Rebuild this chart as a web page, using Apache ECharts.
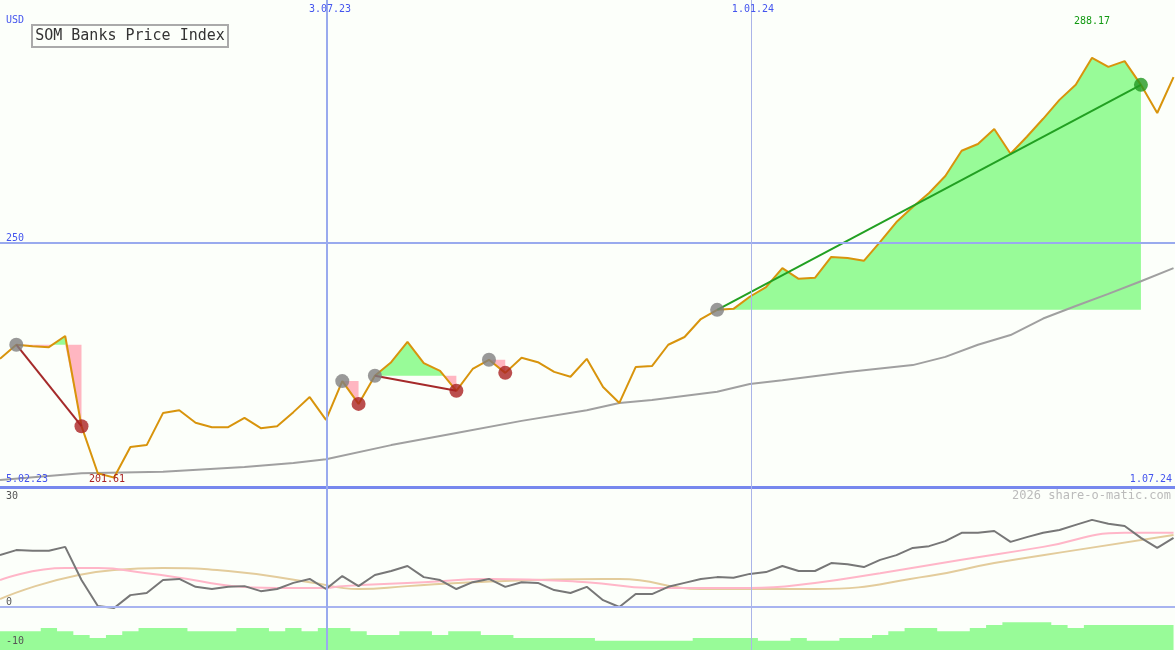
<!DOCTYPE html>
<html>
<head>
<meta charset="utf-8">
<script src="https://cdn.jsdelivr.net/npm/echarts@6/dist/echarts.min.js"></script>
<style>
  html, body { margin: 0; padding: 0; background: #fcfffa; }
  #chart { width: 1175px; height: 650px; }
</style>
</head>
<body>
<div id="chart"></div>
<script>
// weekly closes, index 0..72
var price = [226.1, 229.0, 228.7, 228.5, 230.8, 212.2, 202.5, 201.6, 207.9, 208.3,
  214.9, 215.5, 212.9, 212.0, 212.0, 213.9, 211.8, 212.2, 215.1, 218.2,
  213.5, 221.5, 216.8, 222.6, 225.4, 229.6, 225.2, 223.6, 219.5, 224.0,
  225.9, 223.2, 226.3, 225.4, 223.4, 222.4, 226.1, 220.3, 217.0, 224.4,
  224.6, 229.0, 230.6, 234.3, 236.2, 236.4, 238.9, 240.9, 244.8, 242.6,
  242.8, 247.1, 246.9, 246.3, 250.2, 254.3, 257.4, 260.3, 263.8, 269.0,
  270.4, 273.5, 268.4, 271.9, 275.6, 279.5, 282.6, 288.17, 286.3, 287.5,
  282.6, 276.8, 284.2];
// long moving average [index, value]
var maLong = [[0, 201.1], [5, 202.5], [10, 202.8], [15, 203.8], [18, 204.6], [20, 205.4],
  [24, 208.3], [28, 210.8], [32, 213.3], [36, 215.5], [38, 217.0], [40, 217.6], [44, 219.3],
  [46, 220.9], [48, 221.7], [52, 223.4], [56, 224.8], [58, 226.5], [60, 229.0], [62, 231.0],
  [64, 234.4], [66, 237.0], [68, 239.5], [70, 242.1], [72, 244.8]];
// trades
var tradeEntry = [1, 21, 23, 30, 44];
var tradeExit = [5, 22, 28, 31, 70];
var tradeLine = [true, false, true, false, true];

// lower pane
var momentum = [14.4, 15.8, 15.6, 15.6, 16.7, 7.5, 0.3, -0.3, 3.3, 3.9,
  7.5, 7.8, 5.6, 5.0, 5.6, 5.8, 4.4, 5.0, 6.7, 7.8,
  5.0, 8.6, 5.8, 8.9, 10.0, 11.4, 8.3, 7.5, 5.0, 6.9,
  7.8, 5.6, 6.9, 6.7, 4.7, 3.9, 5.6, 1.9, 0, 3.6,
  3.6, 5.6, 6.7, 7.8, 8.3, 8.1, 9.2, 9.7, 11.4, 10.0,
  10.0, 12.2, 11.9, 11.1, 13.1, 14.4, 16.4, 16.9, 18.3, 20.6,
  20.6, 21.1, 18.1, 19.4, 20.6, 21.4, 22.8, 24.2, 23.1, 22.5,
  19.2, 16.4, 19.2];
var signalPink = [[0, 7.5], [4, 10.8], [6, 10.8], [9, 9.4], [17, 5.3], [20, 5.3], [21, 5.8],
  [26, 6.9], [30, 7.8], [36, 6.9], [40, 5.3], [46, 5.3], [50, 6.7], [54, 9.4], [59, 13.1],
  [64, 16.7], [69, 20.6], [72, 20.6]];
var signalTan = [[0, 2.2], [7, 10.3], [10, 10.8], [14, 10.0], [19, 6.9], [22, 5.0], [25, 5.8],
  [29, 6.9], [37, 7.8], [38, 7.8], [43, 5.0], [50, 5.0], [57, 8.6], [61, 12.2], [66, 15.8],
  [72, 20.0]];
var volume = [-6.7, -6.7, -6.7, -5.8, -6.7, -7.8, -8.6, -7.8, -6.7, -5.8,
  -5.8, -5.8, -6.7, -6.7, -6.7, -5.8, -5.8, -6.7, -5.8, -6.7,
  -5.8, -5.8, -6.7, -7.8, -7.8, -6.7, -6.7, -7.8, -6.7, -6.7,
  -7.8, -7.8, -8.6, -8.6, -8.6, -8.6, -8.6, -9.4, -9.4, -9.4,
  -9.4, -9.4, -9.4, -8.6, -8.6, -8.6, -8.6, -9.4, -9.4, -8.6,
  -9.4, -9.4, -8.6, -8.6, -7.8, -6.7, -5.8, -5.8, -6.7, -6.7,
  -5.8, -5.0, -4.2, -4.2, -4.2, -5.0, -5.8, -5.0, -5.0, -5.0,
  -5.0, -5.0, -5.0];

var dateLabels = ['3.07.23', '1.01.24'];
var dateIdx = [20.06, 46.07];
var priceTicks = [250];

var XMAX = 72.09;
var mono = 'DejaVu Sans Mono';
var blue = '#4455ee';

var chart = echarts.init(document.getElementById('chart'));

function idx(arr) {
  return arr.map(function(v, i) { return [i, v]; });
}

var series = [];

// grid lines
series.push({
  type: 'line', xAxisIndex: 0, yAxisIndex: 0, data: [], silent: true, z: 0,
  markLine: {
    silent: true, symbol: 'none', label: { show: false }, animation: false,
    data: [
      { yAxis: priceTicks[0], lineStyle: { color: '#99aaee', width: 2, type: 'solid' } },
      { yAxis: 199.66, lineStyle: { color: '#7788ee', width: 3, type: 'solid' } },
      { xAxis: dateIdx[0], lineStyle: { color: '#99aaee', width: 2, type: 'solid' } },
      { xAxis: dateIdx[1], lineStyle: { color: '#aab4e8', width: 1, type: 'solid' } }
    ]
  }
});
series.push({
  type: 'line', xAxisIndex: 1, yAxisIndex: 1, data: [], silent: true, z: 0,
  markLine: {
    silent: true, symbol: 'none', label: { show: false }, animation: false,
    data: [
      { yAxis: 0, lineStyle: { color: '#a8b4f0', width: 2, type: 'solid' } },
      { xAxis: dateIdx[0], lineStyle: { color: '#99aaee', width: 2, type: 'solid' } },
      { xAxis: dateIdx[1], lineStyle: { color: '#aab4e8', width: 1, type: 'solid' } }
    ]
  }
});

// trade fills: green above the entry level, pink below
tradeEntry.forEach(function(en, t) {
  var ex = tradeExit[t];
  var e = price[en];
  var pts = [];
  for (var i = en; i <= ex; i++) {
    pts.push([i, price[i]]);
    if (i < ex) {
      var a = price[i] - e, b = price[i + 1] - e;
      if (a * b < 0) pts.push([i + a / (a - b), e]);
    }
  }
  series.push({
    type: 'line', xAxisIndex: 0, yAxisIndex: 0, silent: true, symbol: 'none', z: 1,
    lineStyle: { width: 0 }, areaStyle: { color: '#98fb98', opacity: 1, origin: e },
    data: pts.map(function(p) { return [p[0], Math.max(p[1], e)]; })
  });
  series.push({
    type: 'line', xAxisIndex: 0, yAxisIndex: 0, silent: true, symbol: 'none', z: 1,
    lineStyle: { width: 0 }, areaStyle: { color: '#ffb6c1', opacity: 1, origin: e },
    data: pts.map(function(p) { return [p[0], Math.min(p[1], e)]; })
  });
});

series.push({
  type: 'line', xAxisIndex: 0, yAxisIndex: 0, data: maLong, symbol: 'none', z: 2,
  lineStyle: { color: '#a0a0a0', width: 2 }
});
series.push({
  type: 'line', xAxisIndex: 0, yAxisIndex: 0, data: idx(price), symbol: 'none', z: 3,
  lineStyle: { color: '#d8940c', width: 2 }
});

// trade lines and markers
tradeEntry.forEach(function(en, t) {
  var ex = tradeExit[t];
  var win = price[ex] > price[en];
  if (tradeLine[t]) {
    series.push({
      type: 'line', xAxisIndex: 0, yAxisIndex: 0, symbol: 'none', z: 4,
      lineStyle: { color: win ? '#22a022' : '#a52a2a', width: 2 },
      data: [[en, price[en]], [ex, price[ex]]]
    });
  }
  series.push({
    type: 'scatter', xAxisIndex: 0, yAxisIndex: 0, z: 5, symbolSize: 14,
    data: [{ value: [en, price[en]], itemStyle: { color: '#808080' } },
           { value: [ex, price[ex]], itemStyle: { color: win ? '#229922' : '#aa2222' } }]
  });
});

// lower pane
series.push({
  type: 'line', xAxisIndex: 1, yAxisIndex: 1, data: idx(volume), symbol: 'none', step: 'middle',
  lineStyle: { width: 0 }, areaStyle: { color: '#98fb98', opacity: 1, origin: 'start' }, z: 1
});
series.push({
  type: 'line', xAxisIndex: 1, yAxisIndex: 1, data: signalTan, symbol: 'none', smooth: true,
  lineStyle: { color: '#e3cc9c', width: 2 }, z: 2
});
series.push({
  type: 'line', xAxisIndex: 1, yAxisIndex: 1, data: signalPink, symbol: 'none', smooth: true,
  lineStyle: { color: '#ffb6c8', width: 2 }, z: 2
});
series.push({
  type: 'line', xAxisIndex: 1, yAxisIndex: 1, data: idx(momentum), symbol: 'none',
  lineStyle: { color: '#777777', width: 2 }, z: 3
});

function txt(x, y, s, color, align, size) {
  return { type: 'text', x: x, y: y, z: 100, silent: true,
    style: { text: s, fill: color, font: (size || 10) + 'px "' + mono + '"', textAlign: align || 'left', textVerticalAlign: 'top' } };
}

var graphics = [
  txt(6, 15, 'USD', blue),
  txt(6, 233, String(priceTicks[0]), blue),
  txt(6, 474, '5.02.23', blue),
  txt(1172, 474, '1.07.24', blue, 'right'),
  txt(16.3 * dateIdx[0] + 3, 4, dateLabels[0], blue, 'center'),
  txt(16.3 * dateIdx[1] + 2, 4, dateLabels[1], blue, 'center'),
  txt(1092, 16, '288.17', '#119911', 'center'),
  txt(107, 474, '201.61', '#aa2222', 'center'),
  txt(1171, 490, '2026 share-o-matic.com', '#bbbbbb', 'right', 12),
  txt(6, 491, '30', '#555555'),
  txt(6, 597, '0', '#555555'),
  txt(6, 636, '-10', '#555555'),
  { type: 'rect', shape: { x: 32, y: 25, width: 196, height: 22 }, z: 99, silent: true,
    style: { fill: '#fcfffa', stroke: '#aaaaaa', lineWidth: 2 } },
  { type: 'text', x: 130, y: 36, z: 100, silent: true,
    style: { text: 'SOM Banks Price Index', fill: '#333333', font: '15px "' + mono + '"', textAlign: 'center', textVerticalAlign: 'middle' } }
];

chart.setOption({
  backgroundColor: '#fcfffa',
  animation: false,
  grid: [
    { left: 0, right: 0, top: 0, height: 487 },
    { left: 0, right: 0, top: 487, height: 163 }
  ],
  xAxis: [
    { type: 'value', gridIndex: 0, min: 0, max: XMAX, show: false },
    { type: 'value', gridIndex: 1, min: 0, max: XMAX, show: false }
  ],
  yAxis: [
    { type: 'value', gridIndex: 0, min: 199.66, max: 300.1, show: false },
    { type: 'value', gridIndex: 1, min: -11.94, max: 33.33, show: false }
  ],
  series: series,
  graphic: graphics
});
</script>
</body>
</html>
